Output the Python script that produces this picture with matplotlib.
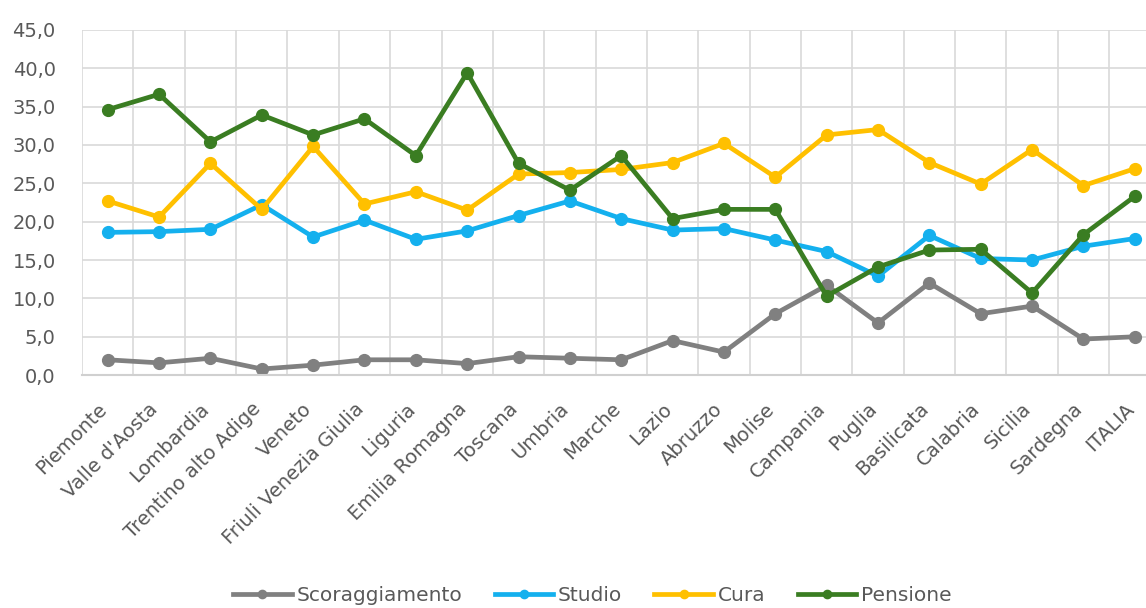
import matplotlib.pyplot as plt
import numpy as np

regioni = ['Piemonte', "Valle d'Aosta", 'Lombardia', 'Trentino alto Adige', 'Veneto',
           'Friuli Venezia Giulia', 'Liguria', 'Emilia Romagna', 'Toscana', 'Umbria',
           'Marche', 'Lazio', 'Abruzzo', 'Molise', 'Campania', 'Puglia', 'Basilicata',
           'Calabria', 'Sicilia', 'Sardegna', 'ITALIA']

scoraggiamento = [2.0, 1.6, 2.2, 0.8, 1.3, 2.0, 2.0, 1.5, 2.4, 2.2,
                  2.0, 4.5, 3.0, 8.0, 11.7, 6.8, 12.0, 8.0, 9.0, 4.7, 5.0]
studio = [18.6, 18.7, 19.0, 22.2, 18.0, 20.2, 17.7, 18.8, 20.8, 22.7,
          20.4, 18.9, 19.1, 17.6, 16.1, 12.9, 18.2, 15.2, 15.0, 16.8, 17.8]
cura = [22.7, 20.6, 27.6, 21.6, 29.8, 22.3, 23.9, 21.5, 26.2, 26.4,
        26.8, 27.7, 30.2, 25.8, 31.3, 32.0, 27.7, 24.9, 29.4, 24.7, 26.9]
pensione = [34.6, 36.6, 30.4, 33.9, 31.3, 33.4, 28.6, 39.4, 27.6, 24.1,
            28.6, 20.4, 21.6, 21.6, 10.3, 14.1, 16.3, 16.4, 10.7, 18.3, 23.3]

serie = [('Scoraggiamento', scoraggiamento, '#808080'),
         ('Studio', studio, '#14B0EE'),
         ('Cura', cura, '#FFC000'),
         ('Pensione', pensione, '#3A7D22')]

fig = plt.figure(figsize=(11.46, 6.08), dpi=100)
# the plot area runs a little past the right edge, as in the original crop
ax = fig.add_axes([0.0716, 0.383, 0.941, 0.568])

x = np.arange(len(regioni))
for nome, valori, colore in serie:
    ax.plot(x, valori, color=colore, lw=3.4, marker='o', ms=8.5, label=nome)

ax.set_xlim(-0.5, len(regioni) - 0.5)
ax.set_ylim(0, 45)
ax.set_yticks(np.arange(0, 46, 5))
ax.set_yticklabels([f'{v:.1f}'.replace('.', ',') for v in np.arange(0, 46, 5)])
ax.set_xticks(x)
ax.set_xticklabels(regioni, rotation=45, ha='right', va='baseline', rotation_mode='anchor')
ax.set_xticks(np.arange(-0.5, len(regioni)), minor=True)

ax.grid(True, which='major', axis='y', color='#d9d9d9', lw=1.2)
ax.grid(True, which='minor', axis='x', color='#d9d9d9', lw=1.2)
ax.set_axisbelow(True)
ax.tick_params(which='both', length=0)
ax.tick_params(axis='y', labelsize=14, labelcolor='#595959', pad=19)
ax.tick_params(axis='x', labelsize=14, labelcolor='#595959', pad=25)
for s in ['top', 'right', 'left']:
    ax.spines[s].set_visible(False)
ax.spines['bottom'].set_color('#d0d0d0')
ax.spines['bottom'].set_linewidth(1.5)

fig.legend(loc='center', bbox_to_anchor=(0.517, 0.021), ncol=4, frameon=False,
           fontsize=14.5, labelcolor='#595959', handlelength=2.9, handletextpad=0.25,
           columnspacing=1.6, markerscale=0.7)

plt.savefig('out.png', dpi=100)
